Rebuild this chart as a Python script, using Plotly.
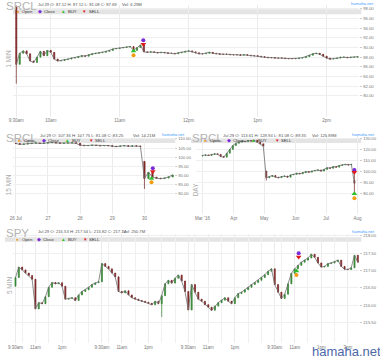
import plotly.graph_objects as go
import pandas as pd

# ---------------- data ----------------
# Panel 1: SRCL intraday, bars every 3 minutes from 9:30
p1_first_open = 98.6
p1_close = [86.5, 88.8, 89.3, 88.7, 87.2, 86.9, 88.0, 89.2, 88.3, 89.4,
            89.0, 87.6, 87.2, 87.3, 87.5, 87.6, 87.8, 87.9, 88.1, 88.3,
            88.2, 88.5, 88.7, 88.8, 88.9, 89.0, 89.2, 89.4, 89.7, 89.8,
            89.9, 90.0, 90.1, 90.2, 89.4, 90.0, 90.5, 89.1, 89.0, 89.1,
            89.0, 88.9, 89.0, 88.9, 88.8, 88.8, 88.7, 88.9, 89.0, 89.2,
            89.3, 89.1, 88.9, 88.7, 88.7, 88.8, 89.0, 88.8, 88.7, 88.6,
            88.6, 88.6, 88.5, 88.5, 88.5, 88.4, 88.5, 88.4, 88.3, 88.3,
            88.2, 88.1, 88.0, 87.9, 87.9, 87.8, 87.8, 87.8, 87.7, 87.7,
            87.7, 87.7, 87.8, 87.9, 88.1, 88.4, 88.7, 88.8, 88.6, 88.2,
            87.8, 87.6, 87.7, 87.8, 88.0, 88.0, 87.9, 88.0, 88.0, 88.1]
p1_low_override = {0: 82.5}
p1_minutes = [3 * i for i in range(len(p1_close))]
p1_signals = {"open": (102, 88.4), "buy": (102, 89.3), "sell": (110.5, 90.7), "close": (110.5, 91.5)}
p1_xticks = [0, 30, 90, 150, 210, 270]
p1_xlabels = ["9:30am", "10am", "11am", "12pm", "1pm", "2pm"]
p1_yticks = [80, 82, 84, 86, 88, 90, 92, 94, 96, 98]

# Panel 2: SRCL 15 min (8 bars per day)
p2_first_open = 107.6
p2_close = [107.5, 107.0, 107.2, 107.4, 107.6, 107.8, 107.5, 107.7,
            107.9, 108.0, 107.8, 107.6, 107.7, 107.8, 107.9, 107.6,
            106.5, 106.3, 106.4, 106.6, 106.4, 106.2, 106.4, 106.3,
            106.0, 105.8, 106.1, 106.3, 106.0, 106.2, 106.1, 105.9,
            88.4, 91.8, 89.1, 88.5, 88.3, 88.6, 89.2, 90.3]
p2_open_override = {32: 97.7}
p2_low_override = {32: 82.7}
p2_pos = [i / 8 for i in range(len(p2_close))]
p2_signals = {"open": (4.22, 86.3), "buy": (4.22, 88.4), "sell": (4.26, 92.2), "close": (4.26, 94.0)}
p2_xticks = [0, 1, 2, 3, 4]
p2_xlabels = ["26 Jul", "27", "28", "29", "30"]
p2_yticks = [80, 85, 90, 95, 100, 105, 110]

# Panel 3: SRCL daily (sampled every 3 days)
p3_first_open = 114.0
p3_close = [114.5, 115.0, 114.5, 115.5, 116.0, 115.5, 113.5, 113.0, 116.5, 120.0,
            123.5, 125.5, 126.5, 127.5, 127.0, 128.0, 127.5, 128.2, 126.5, 125.0,
            123.0,
            94.5, 95.5, 96.5, 95.0, 94.5, 95.5, 96.0, 95.0, 97.0, 97.5,
            98.5, 98.0, 99.0, 100.0, 99.5, 100.5, 101.0, 101.5, 100.5, 102.0,
            103.5, 103.0, 104.5, 104.0, 105.5, 106.0, 106.5, 106.0, 106.5, 89.5]
p3_open_override = {21: 100.5, 50: 92.0}
p3_high_override = {50: 101.0}
p3_low_override = {21: 92.0, 50: 80.0}
p3_dates = pd.date_range("2016-03-01", periods=len(p3_close), freq="3D")
p3_signals = {"open": ("2016-07-29", 76.0), "buy": ("2016-07-29", 80.0),
              "sell": ("2016-07-29", 99.5), "close": ("2016-07-29", 101.4)}
p3_xticks = ["2016-03-01", "2016-04-01", "2016-05-01", "2016-06-01", "2016-07-01", "2016-08-01"]
p3_xlabels = ["Mar '16", "Apr", "May", "Jun", "Jul", "Aug"]
p3_yticks = [80, 90, 100, 110, 120, 130]

# Panel 4: SPY, 15-minute bars over 4 sessions (26 per session)
p4_first_open = 216.55
p4_day1 = [216.80, 217.10, 217.02, 216.93, 216.86, 216.75, 215.90, 216.08, 216.05, 216.25,
           216.52, 216.66, 216.62, 216.65, 216.55, 216.18, 216.20, 216.22, 216.14, 216.30,
           216.40, 216.45, 216.52, 216.60, 216.65, 216.68]
p4_day2 = [217.20, 217.12, 217.05, 216.93, 216.82, 216.40, 216.36, 216.42, 216.30, 216.22,
           216.18, 216.14, 216.12, 216.09, 216.06, 216.02, 216.12, 216.05, 216.28, 216.62,
           216.72, 216.64, 216.78, 216.87, 216.70, 216.40]
p4_day3 = [215.87, 216.60, 216.38, 216.18, 216.12, 216.02, 215.95, 215.86, 215.98, 216.08,
           216.15, 216.22, 216.12, 216.05, 216.22, 216.34, 216.38, 216.45, 216.52, 216.60,
           216.66, 216.72, 216.80, 216.88, 216.98, 217.05]
p4_day4 = [216.60, 216.38, 216.20, 216.32, 216.62, 216.92, 217.05, 217.15, 217.24, 217.30,
           217.36, 217.47, 217.38, 217.22, 217.10, 217.12, 217.20, 217.22, 217.26, 217.30,
           217.12, 217.04, 217.03, 217.08, 217.44, 217.24]
p4_close = p4_day1 + p4_day2 + p4_day3 + p4_day4
p4_low_override = {44: 215.67}
p4_minutes = [d * 390 + 15 * k for d in range(4) for k in range(26)]
p4_signals = {"open": (1268, 216.87), "buy": (1268, 216.99), "sell": (1278, 217.39), "close": (1278, 217.50)}
p4_xticks = []
p4_xlabels = []
for d in range(4):
    for off, lab in [(0, "9:30am"), (90, "11am"), (210, "1pm")]:
        p4_xticks.append(d * 390 + off)
        p4_xlabels.append(lab)
p4_xticks.append(3 * 390 + 330)
p4_xlabels.append("3pm")
p4_minor = [d * 390 + 30 + 60 * j for d in range(4) for j in range(6)]
p4_yticks = [215.5, 216.0, 216.5, 217.0, 217.5, 218.0]

headers = [
    ("SRCL", "Jul 29 O: 87.12 H: 87.12 L: 81.08 C: 87.69", "Vol: 6.29M"),
    ("SRCL", "Jul 29 O: 107.36 H: 107.75 L: 81.08 C: 83.25", "Vol: 14.21M"),
    ("SRCL", "Jul 29 O: 113.61 H: 129.94 L: 81.08 C: 89.35", "Vol: 125.89M"),
    ("SPY", "Jul 29 O: 216.53 H: 217.54 L: 215.82 C: 217.14", "Vol: 250.7M"),
]
panel_titles = ["1 MIN", "15 MIN", "DAY", "5 MIN"]
legend_labels = ["Open", "Close", "BUY", "SELL"]

# ---------------- helpers ----------------
W, H = 380, 358
FONT = "Liberation Sans, Arial, sans-serif"
C_OPEN, C_CLOSE, C_BUY, C_SELL = "#f39c12", "#7a2bd6", "#2fbf2f", "#e01b1b"


def ohlc(close, first_open, o_ov=None, h_ov=None, l_ov=None):
    o = [first_open] + close[:-1]
    for k, v in (o_ov or {}).items():
        o[k] = v
    h = [max(a, b) for a, b in zip(o, close)]
    l = [min(a, b) for a, b in zip(o, close)]
    for k, v in (h_ov or {}).items():
        h[k] = v
    for k, v in (l_ov or {}).items():
        l[k] = v
    return o, h, l


def candle(x, close, first_open, xa, ya, o_ov=None, h_ov=None, l_ov=None):
    o, h, l = ohlc(close, first_open, o_ov, h_ov, l_ov)
    return [
        go.Scatter(x=x, y=close, mode="lines", xaxis=xa, yaxis=ya,
                   line=dict(color="#6e6e6e", width=0.8), showlegend=False, hoverinfo="skip"),
        go.Candlestick(
            x=x, open=o, high=h, low=l, close=close, xaxis=xa, yaxis=ya,
            increasing=dict(line=dict(color="#2f7d2f", width=0.7), fillcolor="#3f9a3f"),
            decreasing=dict(line=dict(color="#742020", width=0.7), fillcolor="#8e2c2c"),
            whiskerwidth=0, showlegend=False, hoverinfo="skip"),
    ]


def signal_traces(sig, xa, ya):
    spec = [("open", "circle", C_OPEN, 4), ("close", "circle", C_CLOSE, 4),
            ("buy", "triangle-up", C_BUY, 5), ("sell", "triangle-down", C_SELL, 5)]
    out = []
    for key, sym, col, size in spec:
        xv, yv = sig[key]
        out.append(go.Scatter(x=[xv], y=[yv], mode="markers", xaxis=xa, yaxis=ya,
                              marker=dict(symbol=sym, color=col, size=size, line=dict(width=0)),
                              showlegend=False, hoverinfo="skip"))
    return out


fig = go.Figure()
fig.add_traces(candle(p1_minutes, p1_close, p1_first_open, "x", "y", l_ov=p1_low_override))
fig.add_traces(signal_traces(p1_signals, "x", "y"))
fig.add_traces(candle(p2_pos, p2_close, p2_first_open, "x2", "y2", o_ov=p2_open_override, l_ov=p2_low_override))
fig.add_traces(signal_traces(p2_signals, "x2", "y2"))
fig.add_traces(candle(p3_dates, p3_close, p3_first_open, "x3", "y3",
                      o_ov=p3_open_override, h_ov=p3_high_override, l_ov=p3_low_override))
fig.add_traces(signal_traces(p3_signals, "x3", "y3"))
fig.add_traces(candle(p4_minutes, p4_close, p4_first_open, "x4", "y4", l_ov=p4_low_override))
fig.add_traces(signal_traces(p4_signals, "x4", "y4"))


def dom_x(a, b):
    return [a / W, b / W]


def dom_y(top, bot):
    return [1 - bot / H, 1 - top / H]


xtickfont = dict(size=4.5, color="#777", family=FONT)
ytickfont = dict(size=4.2, color="#777", family=FONT)


def xax(dom, anchor, rng, tv, tt, **kw):
    d = dict(domain=dom, anchor=anchor, range=rng, tickmode="array", tickvals=tv, ticktext=tt,
             showgrid=True, gridcolor="#ebebeb", gridwidth=1, zeroline=False, showline=False,
             ticks="", tickfont=xtickfont, rangeslider=dict(visible=False), fixedrange=True)
    d.update(kw)
    return d


def yax(dom, anchor, rng, tv, fmt=".2f"):
    return dict(domain=dom, anchor=anchor, range=rng, side="right", tickmode="array", tickvals=tv,
                tickformat=fmt, showgrid=True, gridcolor="#efefef", gridwidth=1, zeroline=False,
                showline=False, ticks="outside", ticklen=2, tickcolor="#cccccc",
                tickfont=ytickfont, fixedrange=True)


fig.update_layout(
    width=W, height=H, margin=dict(l=0, r=0, t=0, b=0),
    paper_bgcolor="white", plot_bgcolor="white", showlegend=False,
    font=dict(family=FONT), boxgap=0.55,
    xaxis=xax(dom_x(8, 362), "y", [-3, 298.5], p1_xticks, p1_xlabels),
    yaxis=yax(dom_y(4, 116), "x", [75.64, 98.83], p1_yticks),
    xaxis2=xax(dom_x(8, 173), "y2", [-0.09, 4.93], p2_xticks, p2_xlabels),
    yaxis2=yax(dom_y(134, 214), "x2", [68.75, 112.34], p2_yticks),
    xaxis3=xax(dom_x(195, 362), "y3", ["2016-02-23 12:00", "2016-08-02 22:00"], p3_xticks, p3_xlabels,
               type="date"),
    yaxis3=yax(dom_y(134, 214), "x3", [61.45, 133.3], p3_yticks),
    xaxis4=xax(dom_x(8, 362), "y4", [-12, 1552], p4_xticks, p4_xlabels,
               minor=dict(tickvals=p4_minor, showgrid=True, gridcolor="#f0f0f0", ticks="")),
    yaxis4=yax(dom_y(234, 343), "x4", [214.92, 218.04], p4_yticks),
)

shapes = []
annotations = []


def ann(x, y, text, size, color, xanchor="left", yanchor="middle", angle=0):
    annotations.append(dict(x=x / W, y=1 - y / H, xref="paper", yref="paper", text=text,
                            showarrow=False, font=dict(size=size, color=color, family=FONT),
                            xanchor=xanchor, yanchor=yanchor, textangle=angle, borderpad=0))


def strip(x0, x1, y0, y1, sym_xs):
    shapes.append(dict(type="rect", xref="paper", yref="paper", x0=x0 / W, x1=x1 / W,
                       y0=1 - y1 / H, y1=1 - y0 / H, fillcolor="#e4e4e4", line=dict(width=0),
                       layer="below"))
    yc = (y0 + y1) / 2
    syms = [("●", C_OPEN), ("◆", C_CLOSE), ("▲", C_BUY), ("▼", C_SELL)]
    for sx, (s, col), lab in zip(sym_xs, syms, legend_labels):
        ann(sx, yc, s, 4.6, col, xanchor="center")
        ann(sx + 3.0, yc, lab, 4.2, "#333")


# panel headers
header_pos = [
    dict(tx=0.5, ty=5.5, hx=33, vx=118, y=3.4, nx=378, ny=2.6),
    dict(tx=0.5, ty=137.2, hx=35, vx=130, y=134.8, nx=185, ny=134.2),
    dict(tx=190.5, ty=137.2, hx=222, vx=313, y=134.8, nx=379, ny=134.2),
    dict(tx=0.5, ty=233.0, hx=33, vx=120, y=231.2, nx=379, ny=230.8),
]
for (tk, hdr, vol), p in zip(headers, header_pos):
    ann(p["tx"], p["ty"], tk, 11.5, "#b3b3b3")
    ann(p["hx"], p["y"], hdr, 4.2, "#555")
    ann(p["vx"], p["y"], vol, 4.2, "#555")
    ann(p["nx"], p["ny"], "hamaha.net", 4.2, "#3d9bff", xanchor="right")

strip(8, 364, 8.3, 13.3, [13.3, 36, 60, 81.7])
strip(8, 174, 138.0, 142.5, [15, 40, 64, 88])
strip(190, 364, 138.0, 142.5, [205, 229, 254, 278])
strip(0, 364, 237.0, 241.5, [13, 35, 60, 82])

title_pos = [(4, 58), (4, 184), (195, 189), (4, 285)]
for t, (x, y) in zip(panel_titles, title_pos):
    ann(x, y, t, 6.5, "#aaaaaa", xanchor="center", angle=-90)

ann(349, 351, "hamaha.net", 13, "#4d68a8", xanchor="center")

fig.update_layout(shapes=shapes, annotations=annotations)
fig.write_html("out.html", config={"displayModeBar": False, "staticPlot": True})

# remove the default page margin so the figure sits at the window's top-left corner
with open("out.html", "r", encoding="utf-8") as f:
    html = f.read()
html = html.replace("<head>", "<head><style>html,body{margin:0;padding:0;overflow:hidden;}</style>", 1)
with open("out.html", "w", encoding="utf-8") as f:
    f.write(html)
